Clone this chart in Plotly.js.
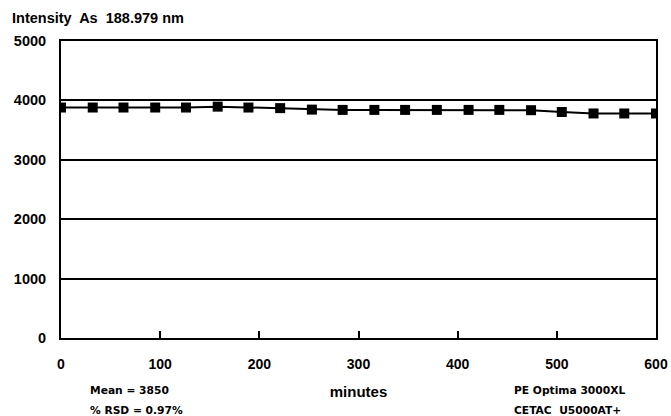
<!DOCTYPE html>
<html>
<head>
<meta charset="utf-8">
<script src="https://cdn.plot.ly/plotly-3.0.1.min.js"></script>
<style>html,body{margin:0;padding:0;background:#fff;}#chart{width:671px;height:416px;}</style>
</head>
<body>
<div id="chart"></div>
<script>
// Data
const minutes = [0, 32, 63, 95, 126, 158, 189, 221, 253, 284, 316, 347, 379, 411, 442, 474, 505, 537, 568, 600];
const intensity = [3880, 3880, 3880, 3880, 3880, 3895, 3880, 3870, 3845, 3840, 3840, 3840, 3840, 3840, 3840, 3835, 3805, 3780, 3780, 3780];
const xTicks = [0, 100, 200, 300, 400, 500, 600];
const yTicks = [0, 1000, 2000, 3000, 4000, 5000];
const chartTitle = 'Intensity  As  188.979 nm';
const xTitle = 'minutes';
const notesLeft = ['Mean = 3850', '% RSD = 0.97%'];
const notesRight = ['PE Optima 3000XL', 'CETAC  U5000AT+'];

const ARIAL = 'Liberation Sans, Arial, sans-serif';
const DEJAVU = 'DejaVu Sans, Liberation Sans, sans-serif';

const W = 671, H = 416;
const M = {l: 61, r: 15, t: 41, b: 78};
const pw = W - M.l - M.r, ph = H - M.t - M.b;
const px2paperX = px => (px - M.l) / pw;
const px2paperY = py => (H - M.b - py) / ph;

const trace = {
  x: minutes, y: intensity, type: 'scatter', mode: 'lines+markers',
  line: {color: '#000', width: 2},
  marker: {symbol: 'square', size: 10, color: '#000'},
  hoverinfo: 'skip'
};

const noteFont = {family: DEJAVU, size: 10.7, color: '#000', weight: 700};
const annotations = [
  {text: notesLeft[0], x: px2paperX(88), y: px2paperY(390.5)},
  {text: notesLeft[1], x: px2paperX(88), y: px2paperY(410.5)},
  {text: notesRight[0], x: px2paperX(512), y: px2paperY(390.5)},
  {text: notesRight[1], x: px2paperX(512), y: px2paperY(410.5)}
].map(a => Object.assign({xref: 'paper', yref: 'paper', xanchor: 'left', yanchor: 'middle', showarrow: false, font: noteFont}, a));

const layout = {
  width: W, height: H,
  margin: M,
  paper_bgcolor: '#fff', plot_bgcolor: '#fff',
  showlegend: false,
  title: {
    text: chartTitle,
    font: {family: ARIAL, size: 14.5, color: '#000', weight: 700},
    xref: 'container', yref: 'container',
    x: 12 / W, xanchor: 'left',
    y: 1 - 18 / H, yanchor: 'middle'
  },
  xaxis: {
    range: [0, 600],
    tickvals: xTicks,
    ticktext: xTicks.map(String),
    ticks: 'inside', ticklen: 7, tickwidth: 2, tickcolor: '#000',
    showline: true, mirror: true, linecolor: '#000', linewidth: 2,
    showgrid: false, zeroline: false,
    tickfont: {family: ARIAL, size: 14, color: '#000', weight: 700},
    ticklabelstandoff: 12,
    title: {text: xTitle, font: {family: ARIAL, size: 15, color: '#000', weight: 700}, standoff: 16}
  },
  yaxis: {
    range: [0, 5000],
    tickvals: yTicks,
    ticktext: yTicks.map(String),
    ticks: '',
    showline: true, mirror: true, linecolor: '#000', linewidth: 2,
    showgrid: true, gridcolor: '#000', gridwidth: 2,
    zeroline: false,
    tickfont: {family: ARIAL, size: 14.5, color: '#000', weight: 700},
    ticklabelstandoff: 10
  },
  annotations: annotations
};

Plotly.newPlot('chart', [trace], layout, {staticPlot: true, displayModeBar: false});
</script>
</body>
</html>
